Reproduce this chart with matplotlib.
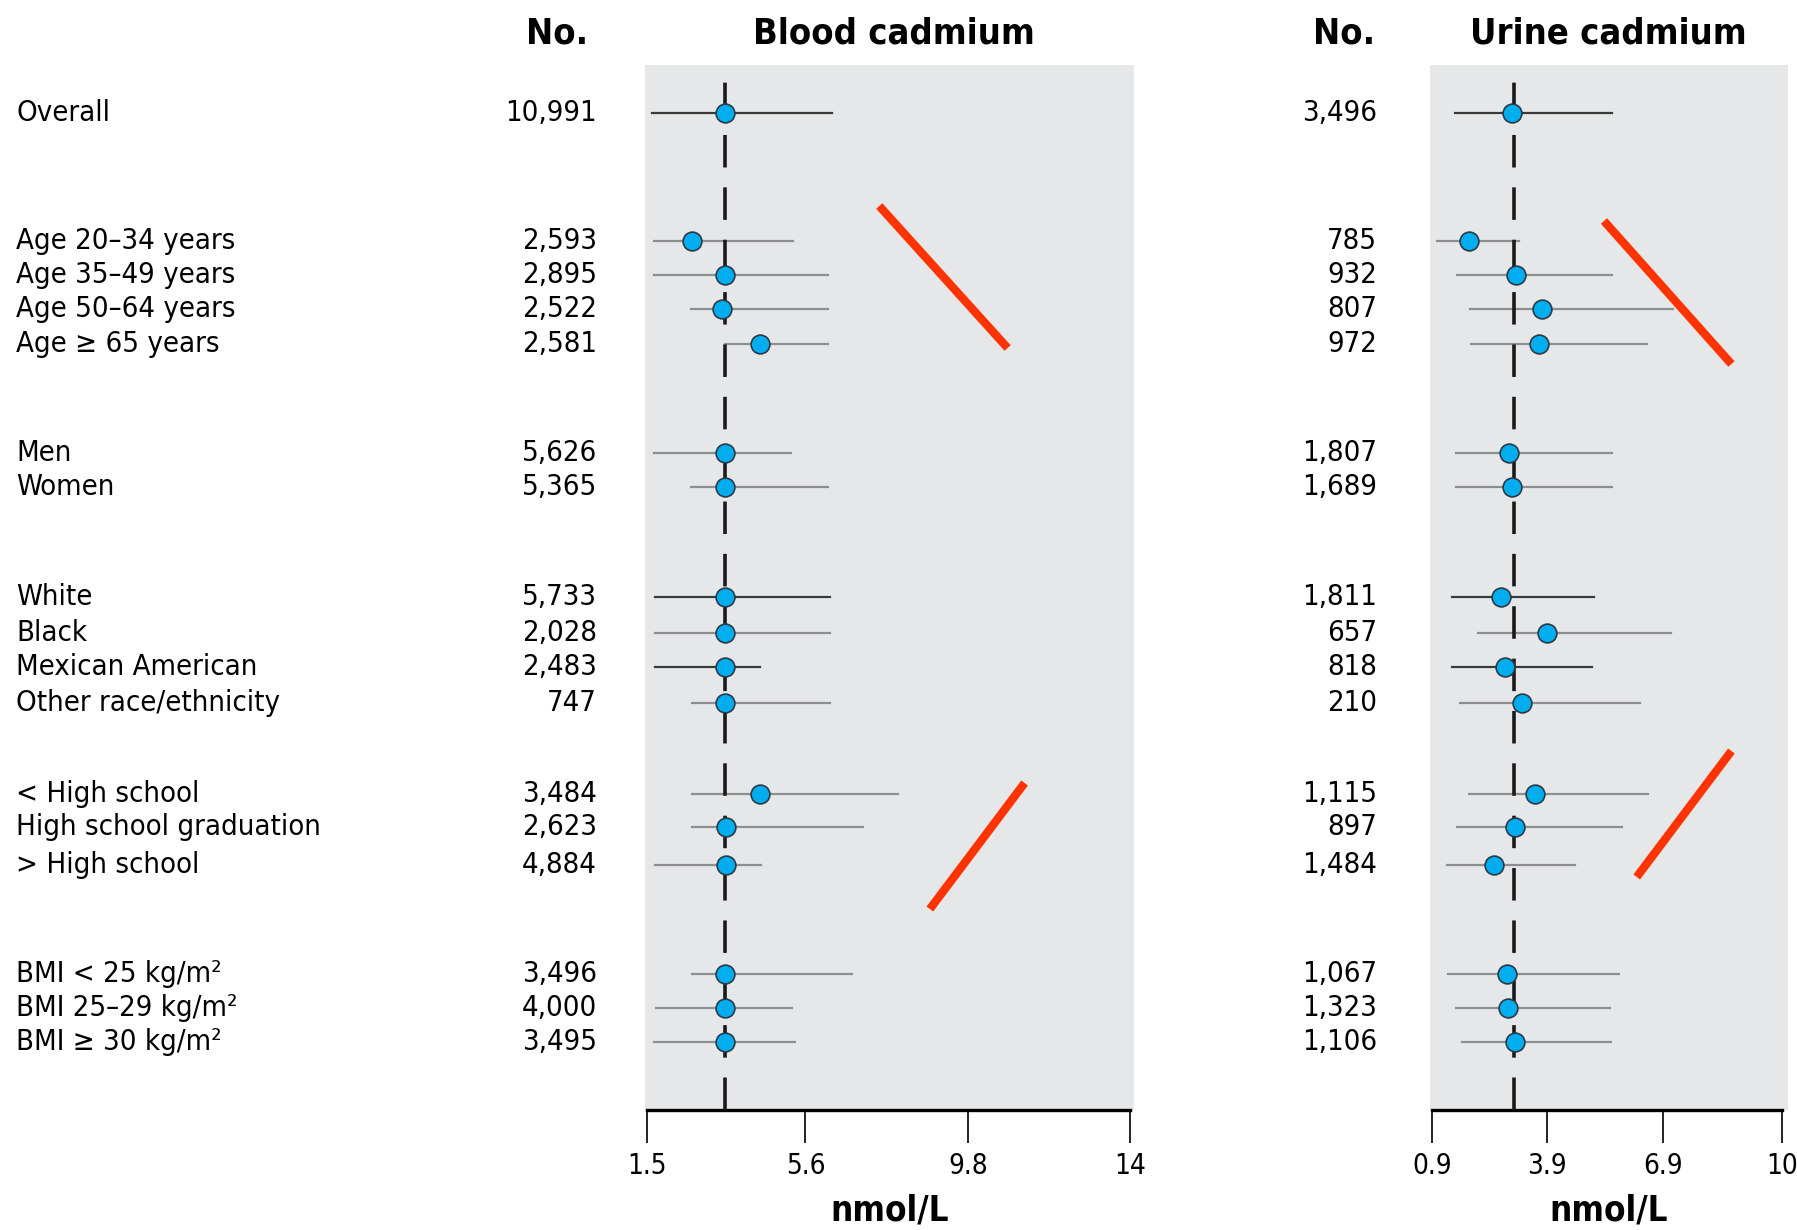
import matplotlib.pyplot as plt
from matplotlib import font_manager

# ---------------- data ----------------
labels = ['Overall',
          'Age 20–34 years', 'Age 35–49 years', 'Age 50–64 years', 'Age ≥ 65 years',
          'Men', 'Women',
          'White', 'Black', 'Mexican American', 'Other race/ethnicity',
          '< High school', 'High school graduation', '> High school',
          'BMI < 25 kg/m²', 'BMI 25–29 kg/m²', 'BMI ≥ 30 kg/m²']

blood_n = ['10,991', '2,593', '2,895', '2,522', '2,581', '5,626', '5,365',
           '5,733', '2,028', '2,483', '747', '3,484', '2,623', '4,884',
           '3,496', '4,000', '3,495']
urine_n = ['3,496', '785', '932', '807', '972', '1,807', '1,689',
           '1,811', '657', '818', '210', '1,115', '897', '1,484',
           '1,067', '1,323', '1,106']

blood_est = [3.51, 2.66, 3.51, 3.45, 4.43, 3.51, 3.51, 3.51, 3.51, 3.51, 3.51,
             4.43, 3.54, 3.54, 3.51, 3.51, 3.51]
blood_lo = [1.62, 1.68, 1.68, 2.63, 3.51, 1.68, 2.63, 1.71, 1.71, 1.71, 2.66,
            2.66, 2.66, 1.71, 2.66, 1.74, 1.68]
blood_hi = [6.30, 5.29, 6.18, 6.18, 6.18, 5.23, 6.18, 6.24, 6.24, 4.43, 6.24,
            7.99, 7.10, 4.46, 6.80, 5.26, 5.32]

urine_est = [2.97, 1.86, 3.09, 3.75, 3.69, 2.91, 2.97, 2.70, 3.90, 2.79, 3.24,
             3.57, 3.06, 2.52, 2.85, 2.88, 3.06]
urine_lo = [1.50, 1.02, 1.56, 1.89, 1.92, 1.53, 1.53, 1.41, 2.10, 1.41, 1.62,
            1.86, 1.56, 1.29, 1.32, 1.53, 1.68]
urine_hi = [5.58, 3.15, 5.58, 7.17, 6.48, 5.58, 5.58, 5.10, 7.12, 5.07, 6.31,
            6.52, 5.83, 4.62, 5.77, 5.52, 5.55]

blood_ref = 3.51
urine_ref = 3.03
blood_ticks = [1.5, 5.6, 9.8, 14]
urine_ticks = [0.9, 3.9, 6.9, 10]

# ---------------- layout (pixel positions of the 1797x1230 figure) ----------------
W, H = 1797, 1230
row_y = [113, 241, 275, 309, 344, 453, 487, 597, 633, 667, 703,
         794, 827, 865, 974, 1008, 1042]
dark_rows = [0, 7, 9]

# the original uses a condensed face; pick one if the machine has it
narrow = None
for pref in ['Liberation Sans Narrow', 'DejaVu Sans', 'Noto Sans', 'Open Sans', 'Roboto']:
    for f in font_manager.fontManager.ttflist:
        cond = ('Narrow' in f.name or 'Condensed' in f.name
                or str(f.stretch) in ('condensed', 'semi-condensed', 'extra-condensed'))
        if f.name == pref and cond and f.style == 'normal':
            narrow = f.name
            break
    if narrow:
        break

if narrow:
    plt.rcParams['font.family'] = [narrow, 'DejaVu Sans']
    plt.rcParams['font.stretch'] = 'condensed'
    fs, fs_head, fs_tick, fs_unit = 21, 26, 20, 25
else:
    plt.rcParams['font.family'] = ['DejaVu Sans']
    fs, fs_head, fs_tick, fs_unit = 18, 23, 17, 22

fig = plt.figure(figsize=(W / 100, H / 100), dpi=100)


def fx(x):
    return x / W


def fy(y):
    return 1 - y / H


def panel(x0, x1, est, lo, hi, ref, ticks, xlim, reds):
    ax = fig.add_axes([fx(x0), fy(1110), (x1 - x0) / W, (1110 - 65) / H])
    ax.set_facecolor('#e6e7e8')
    ax.set_xlim(*xlim)
    ax.set_ylim(1110, 65)
    for s in ['top', 'left', 'right']:
        ax.spines[s].set_visible(False)
    ax.spines['bottom'].set_linewidth(2.4)
    ax.spines['bottom'].set_bounds(ticks[0], ticks[-1])
    ax.set_yticks([])
    ax.set_xticks(ticks)
    ax.set_xticklabels([str(t) for t in ticks], fontsize=fs_tick)
    ax.tick_params(axis='x', direction='out', length=24, width=1.2, pad=6)
    ax.set_xlabel('nmol/L', fontsize=fs_unit, fontweight='bold', labelpad=10)

    ax.axvline(ref, ymin=0, ymax=0.995, color='#1a1a1a', lw=2.6,
               linestyle=(0, (9, 5.5)), zorder=3)
    for i in range(len(est)):
        c = '#3a3a3a' if i in dark_rows else '#8e8e8e'
        ax.plot([lo[i], hi[i]], [row_y[i], row_y[i]], color=c, lw=1.6, zorder=2)
        ax.plot(est[i], row_y[i], 'o', ms=13.5, mfc='#00aeef', mec='#2a3a48',
                mew=1.2, zorder=4)
    for (xa, ya), (xb, yb) in reds:
        ax.plot([xa, xb], [ya, yb], color='#ff3300', lw=6,
                solid_capstyle='butt', zorder=5)
    return ax


panel(645, 1134, blood_est, blood_lo, blood_hi, blood_ref, blood_ticks,
      (1.45, 14.1),
      [((7.51, 206), (10.83, 348)), ((8.82, 909), (11.27, 783))])
panel(1430, 1788, urine_est, urine_lo, urine_hi, urine_ref, urine_ticks,
      (0.85, 10.15),
      [((5.37, 221), (8.68, 364)), ((6.22, 877), (8.68, 751))])

# row labels and counts
for i in range(len(labels)):
    fig.text(fx(16), fy(row_y[i]), labels[i], fontsize=fs, ha='left', va='center')
    fig.text(fx(597), fy(row_y[i]), blood_n[i], fontsize=fs, ha='right', va='center')
    fig.text(fx(1377), fy(row_y[i]), urine_n[i], fontsize=fs, ha='right', va='center')

# headers
fig.text(fx(557), fy(33), 'No.', fontsize=fs_head, fontweight='bold', ha='center', va='center')
fig.text(fx(894), fy(33), 'Blood cadmium', fontsize=fs_head, fontweight='bold', ha='center', va='center')
fig.text(fx(1344), fy(33), 'No.', fontsize=fs_head, fontweight='bold', ha='center', va='center')
fig.text(fx(1608), fy(33), 'Urine cadmium', fontsize=fs_head, fontweight='bold', ha='center', va='center')

fig.savefig('out.png', dpi=100)
